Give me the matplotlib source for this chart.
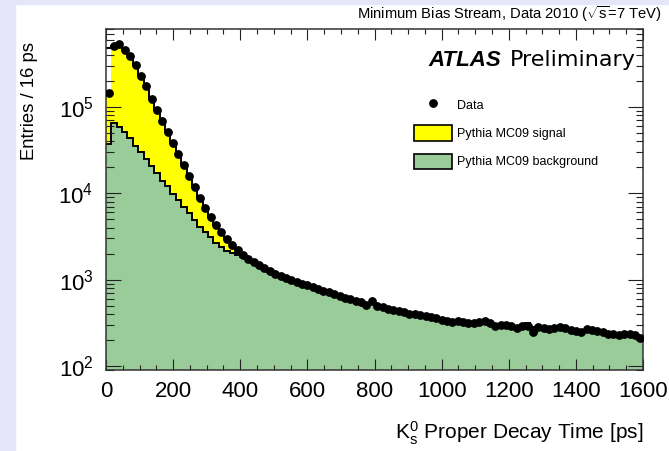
import numpy as np
import matplotlib
matplotlib.use("Agg")
import matplotlib.pyplot as plt
from matplotlib.patches import Rectangle, Patch
from matplotlib.lines import Line2D
from matplotlib.ticker import LogLocator, MultipleLocator, LogFormatterSciNotation, NullFormatter

plt.rcParams['font.family'] = ['Liberation Sans', 'DejaVu Sans']
plt.rcParams['mathtext.fontset'] = 'custom'
plt.rcParams['mathtext.rm'] = 'Liberation Sans'
plt.rcParams['mathtext.it'] = 'Liberation Sans:italic'
plt.rcParams['mathtext.bf'] = 'Liberation Sans:bold'

# K0s proper decay time, 16 ps bins from 0 to 1600 ps
bin_width = 16
n_bins = 100

data = [
    146600, 512000, 540000, 459000, 386000, 303000, 231000, 174500, 124700, 92700,
    69000, 51300, 38200, 28400, 21100, 15710, 11850, 8930, 6825, 5357,
    4320, 3578, 2965, 2523, 2205, 1928, 1730, 1597, 1473, 1359,
    1254, 1172, 1110, 1038, 984, 932, 896, 860, 815, 772,
    742, 713, 675, 640, 606, 590, 574, 552, 509, 574,
    502, 482, 463, 445, 433, 422, 405, 400, 389, 384,
    374, 359, 345, 336, 327, 331, 327, 318, 314, 327,
    331, 318, 293, 301, 297, 293, 278, 293, 290, 250,
    286, 278, 271, 278, 282, 274, 263, 256, 250, 271,
    263, 256, 246, 237, 233, 227, 237, 237, 227, 212,
]

mc_background = [
    37200, 65400, 58200, 50900, 43300, 35500, 30200, 24800, 20700, 17350,
    13840, 12100, 9945, 8464, 6955, 5918, 4850, 4127, 3607, 3153,
    2684, 2410, 2164, 2034, 1928, 1827, 1685, 1560, 1440, 1330,
    1230, 1150, 1085, 1020, 960, 915, 870, 845, 800, 760,
    725, 700, 665, 630, 600, 575, 560, 545, 530, 520,
    500, 480, 462, 440, 428, 415, 403, 392, 383, 372,
    366, 354, 344, 332, 330, 322, 324, 316, 318, 313,
    318, 305, 300, 298, 292, 288, 285, 282, 312, 278,
    278, 274, 270, 268, 270, 265, 262, 255, 258, 256,
    255, 250, 244, 240, 236, 232, 228, 230, 230, 215,
]

mc_signal = [
    442000, 447000, 482000, 408000, 343000, 267500, 201000, 149700, 104000, 75400,
    55200, 39200, 28300, 19900, 14100, 9790, 7000, 4800, 3220, 2200,
    1640, 1170, 800, 490, 277, 100, 45, 25, 22, 20,
    18, 16, 15, 14, 13, 12, 11, 10, 10, 9,
    9, 8, 8, 7, 7, 7, 6, 6, 6, 6,
    5, 5, 5, 5, 5, 4, 4, 4, 4, 4,
    4, 4, 3, 3, 3, 3, 3, 3, 3, 3,
    3, 3, 3, 3, 3, 3, 3, 2, 2, 2,
    2, 2, 2, 2, 2, 2, 2, 2, 2, 2,
    2, 2, 2, 2, 2, 2, 2, 2, 2, 2,
]

x_ticks = [0, 200, 400, 600, 800, 1000, 1200, 1400, 1600]

data = np.asarray(data, dtype=float)
bkg = np.asarray(mc_background, dtype=float)
sig = np.asarray(mc_signal, dtype=float)
total = bkg + sig
edges = np.arange(n_bins + 1) * bin_width
centers = 0.5 * (edges[:-1] + edges[1:])

# the signal fill of the first bin only reaches the measured level
fill_top = total.copy()
fill_top[0] = data[0]

green = '#99cc99'
yellow = '#ffff00'

fig = plt.figure(figsize=(6.69, 4.51), dpi=100)
fig.patches.append(Rectangle((0, 0), 15 / 669, 1, transform=fig.transFigure,
                             color='#e6e6fa', zorder=-10))
fig.patches.append(Rectangle((0, 1 - 4 / 451), 1, 4 / 451, transform=fig.transFigure,
                             color='#e6e6fa', zorder=-10))

ax = fig.add_axes([106 / 669, 81 / 451, 537 / 669, 341 / 451])
ax.set_yscale('log')
ymin, ymax = 90, 8.0e5

ax.stairs(bkg, edges, baseline=1.0, fill=True, color=green, zorder=1)
ax.stairs(fill_top, edges, baseline=bkg, fill=True, color=yellow, zorder=1)
ax.stairs(total, edges, baseline=None, color='black', lw=1.4, zorder=2)
ax.stairs(bkg, edges, baseline=None, color='black', lw=1.4, zorder=2)
ax.plot(centers, data, 'o', color='black', ms=5.3, zorder=3)

ax.set_xlim(0, 1600)
ax.set_ylim(ymin, ymax)
ax.set_xticks(x_ticks)
ax.xaxis.set_minor_locator(MultipleLocator(50))
ax.yaxis.set_major_locator(LogLocator(base=10, numticks=10))
ax.yaxis.set_minor_locator(LogLocator(base=10, subs=np.arange(2, 10), numticks=20))
ax.yaxis.set_major_formatter(LogFormatterSciNotation())
ax.yaxis.set_minor_formatter(NullFormatter())

ax.tick_params(which='both', direction='in', top=True, right=True, width=0.8, color='#222222')
ax.tick_params(axis='x', which='major', length=7.7, labelsize=16, pad=8)
ax.tick_params(axis='x', which='minor', length=3.9)
ax.tick_params(axis='y', which='major', length=10.8, labelsize=16, pad=9)
ax.tick_params(axis='y', which='minor', length=5.4)
for s in ax.spines.values():
    s.set_linewidth(1.1)
    s.set_color('#333333')

ax.set_xlabel(r'K$_\mathrm{s}^\mathrm{0}$ Proper Decay Time [ps]', fontsize=15, ha='right')
ax.xaxis.set_label_coords(1.0, -0.145)
ax.set_ylabel('Entries / 16 ps', fontsize=13.3, ha='right')
ax.yaxis.set_label_coords(-0.1266, 0.962)

fig.text(662 / 669, 1 - 14 / 451, r'Minimum Bias Stream, Data 2010 ($\sqrt{\mathrm{s}}$=7 TeV)',
         ha='right', va='center', fontsize=10.6)

ax.text(0.600, 0.908, 'ATLAS', transform=ax.transAxes, fontsize=16,
        fontweight='bold', fontstyle='italic', ha='left', va='center')
ax.text(0.752, 0.908, 'Preliminary', transform=ax.transAxes, fontsize=16,
        family=['DejaVu Sans'], ha='left', va='center')

handles = [
    Line2D([], [], ls='none', marker='o', color='black', ms=5.3),
    Patch(facecolor=yellow, edgecolor='black', lw=1.2),
    Patch(facecolor=green, edgecolor='black', lw=1.2),
]
labels = ['Data', 'Pythia MC09 signal', 'Pythia MC09 background']
ax.legend(handles, labels, loc='upper left', bbox_to_anchor=(0.5736, 0.80),
          frameon=False, fontsize=9, handlelength=3.0, handleheight=1.55,
          handletextpad=0.4, labelspacing=1.0, borderpad=0, borderaxespad=0)

fig.savefig('out.png', dpi=100)
